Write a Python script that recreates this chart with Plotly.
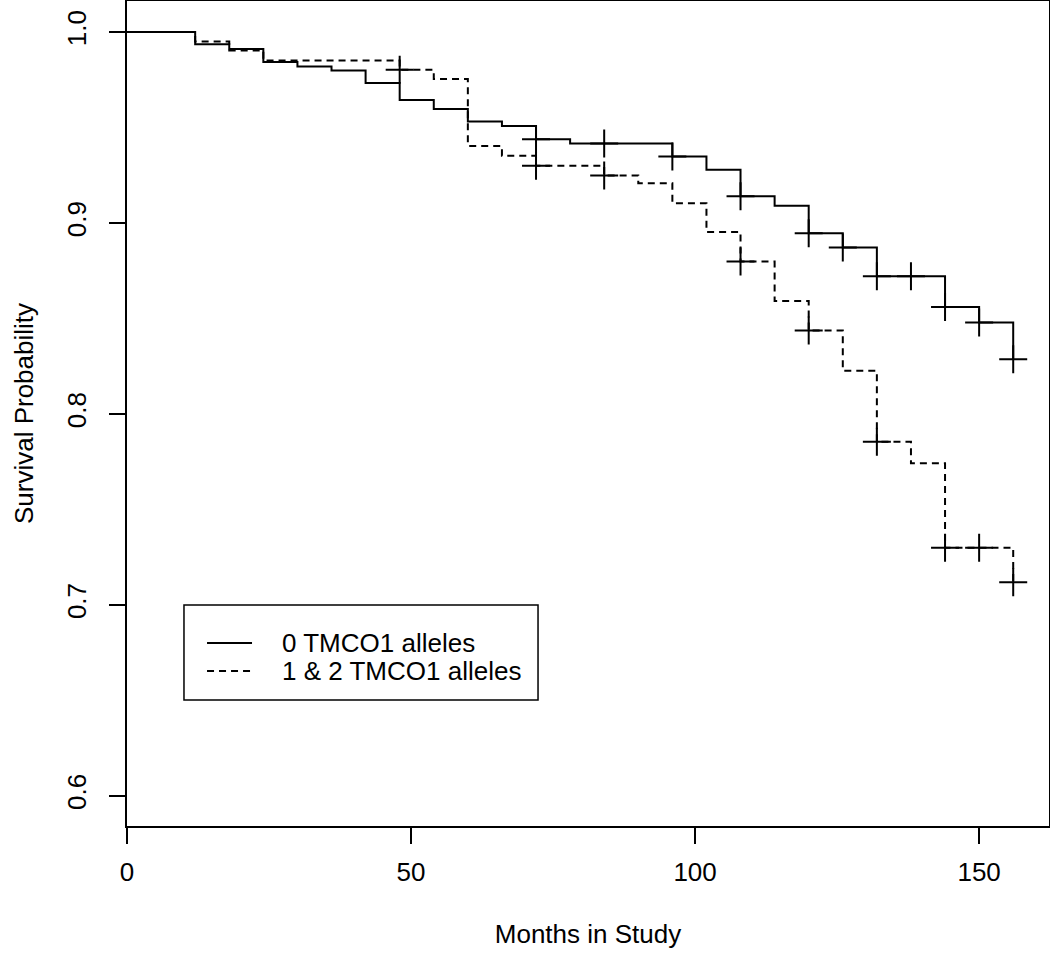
import plotly.graph_objects as go

# ---- data ----
months_0 = [0, 12, 18, 24, 30, 36, 42, 48, 54, 60, 66, 72, 78, 96, 102, 108, 114,
            120, 126, 132, 144, 150, 156]
surv_0 = [1.0, 0.9937, 0.9911, 0.9843, 0.9820, 0.9799, 0.9733, 0.9645, 0.9597,
          0.9532, 0.9508, 0.9439, 0.9417, 0.9348, 0.9279, 0.9140, 0.9090, 0.8947,
          0.8872, 0.8722, 0.8560, 0.8479, 0.8287]
censor_0 = [72, 84, 96, 108, 120, 126, 132, 138, 144, 150, 156]

months_12 = [0, 12, 18, 24, 48, 54, 60, 66, 72, 84, 90, 96, 102, 108, 114, 120,
             126, 132, 138, 144, 156]
surv_12 = [1.0, 0.9951, 0.9904, 0.9851, 0.9803, 0.9754, 0.9404, 0.9352, 0.9300,
           0.9249, 0.9208, 0.9104, 0.8953, 0.8798, 0.8592, 0.8437, 0.8226, 0.7855,
           0.7742, 0.7300, 0.7119]
censor_12 = [48, 72, 84, 108, 120, 132, 144, 150, 156]

labels = ["0 TMCO1 alleles", "1 & 2 TMCO1 alleles"]
x_ticks = [0, 50, 100, 150]
y_ticks = [0.6, 0.7, 0.8, 0.9, 1.0]
y_tick_text = ["0.6", "0.7", "0.8", "0.9", "1.0"]


def step_value(times, values, t):
    v = values[0]
    for tt, vv in zip(times, values):
        if tt <= t:
            v = vv
    return v


FONT = "Liberation Sans, Arial, Helvetica, sans-serif"
DASH = "7px,5px"
fig = go.Figure()

fig.add_trace(go.Scatter(x=months_0, y=surv_0, mode="lines", line_shape="hv",
                         line=dict(color="black", width=2), name=labels[0]))
fig.add_trace(go.Scatter(x=months_12, y=surv_12, mode="lines", line_shape="hv",
                         line=dict(color="black", width=2, dash=DASH),
                         name=labels[1]))

for times, vals, cens in [(months_0, surv_0, censor_0), (months_12, surv_12, censor_12)]:
    fig.add_trace(go.Scatter(
        x=cens, y=[step_value(times, vals, c) for c in cens], mode="markers",
        marker=dict(symbol="cross-thin", size=20, color="black",
                    line=dict(color="black", width=2)),
        showlegend=False, hoverinfo="skip"))

axis_common = dict(showline=True, linecolor="black", linewidth=2, mirror=True,
                   ticks="outside", ticklen=16, tickwidth=2, tickcolor="black",
                   showgrid=False, zeroline=False, automargin=False,
                   tickfont=dict(family=FONT, size=26, color="black"))

fig.update_xaxes(range=[0, 162.3], tickvals=x_ticks, ticklabelstandoff=6,
                 **axis_common,
                 title=dict(text="Months in Study", standoff=39,
                            font=dict(family=FONT, size=26, color="black")))
fig.update_yaxes(range=[0.5842, 1.0163], tickvals=y_ticks, ticktext=y_tick_text,
                 tickangle=-90, ticklabelstandoff=13, **axis_common,
                 title=dict(text="Survival Probability", standoff=20,
                            font=dict(family=FONT, size=26, color="black")))

# legend box drawn in plot-area (paper) coordinates
box_x0, box_x1, box_y0, box_y1 = 0.0618, 0.4458, 0.1527, 0.2679
seg_x0, seg_x1, txt_x = 0.0868, 0.1356, 0.1659
row_y = [0.2218, 0.1879]
dashes = ["solid", DASH]

fig.add_shape(type="rect", xref="paper", yref="paper", x0=box_x0, x1=box_x1,
              y0=box_y0, y1=box_y1, line=dict(color="black", width=1.5),
              fillcolor="white", layer="above")
for lab, ry, dsh in zip(labels, row_y, dashes):
    fig.add_shape(type="line", xref="paper", yref="paper", x0=seg_x0, x1=seg_x1,
                  y0=ry, y1=ry, line=dict(color="black", width=2, dash=dsh),
                  layer="above")
    fig.add_annotation(xref="paper", yref="paper", x=txt_x, y=ry, text=lab,
                       showarrow=False, xanchor="left", yanchor="middle",
                       font=dict(family=FONT, size=26, color="black"))

fig.update_layout(
    width=1050, height=954,
    margin=dict(l=127, r=1, t=1, b=128),
    paper_bgcolor="white", plot_bgcolor="white",
    font=dict(family=FONT, size=26, color="black"),
    showlegend=False,
)

fig.write_html("out.html",
               config={"displayModeBar": False},
               post_script="document.body.style.margin='0px';"
                           "document.body.style.overflow='hidden';")
